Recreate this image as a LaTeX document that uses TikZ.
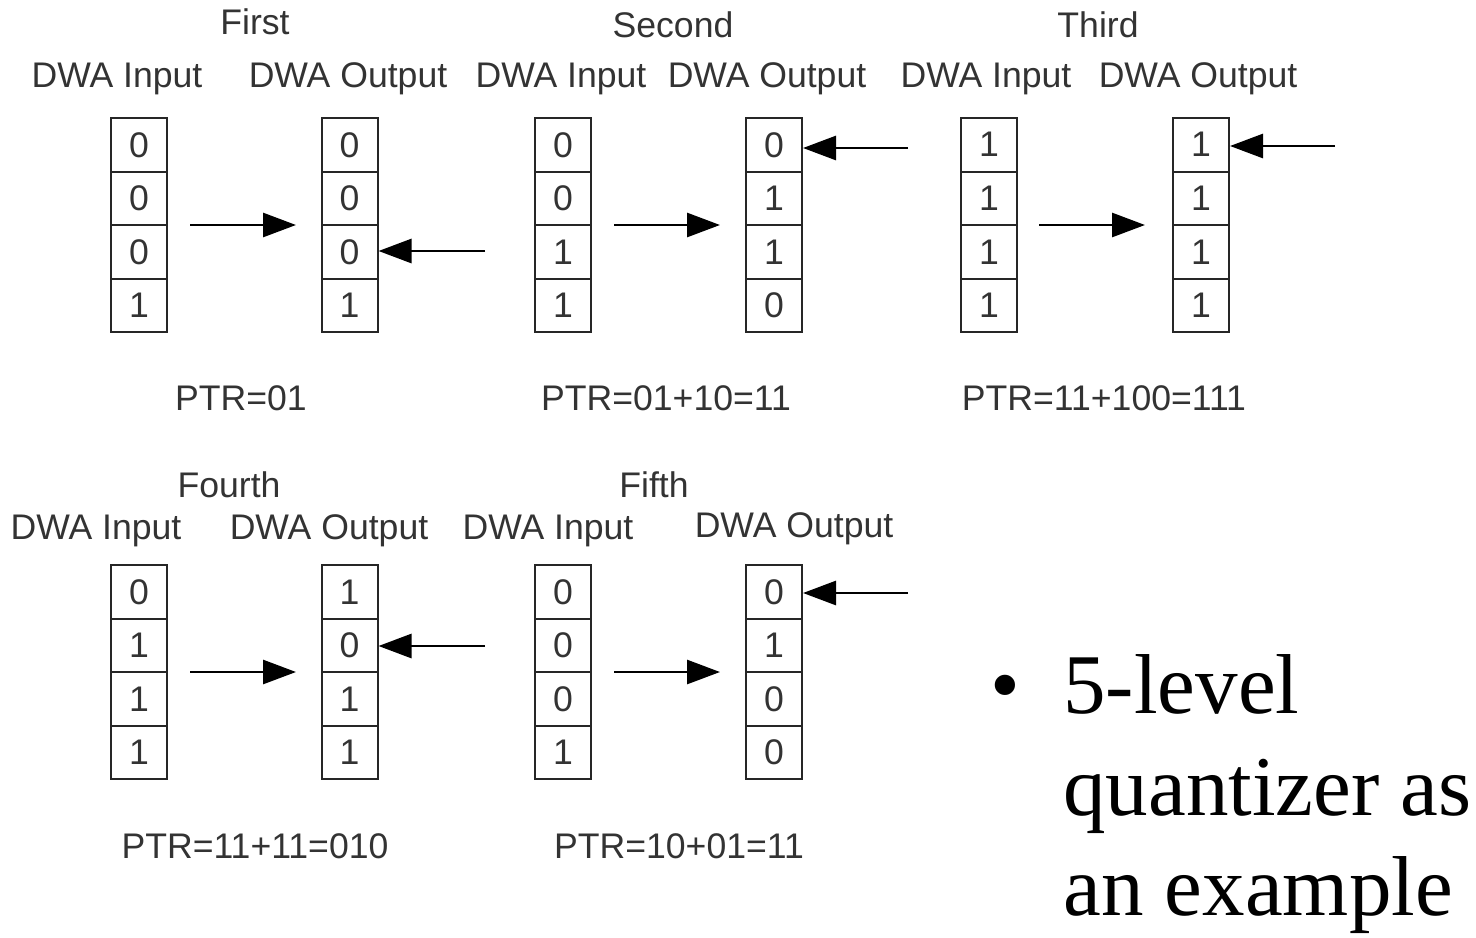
\documentclass[tikz,border=0pt]{standalone}
\usepackage{fontspec}
\setmainfont{Liberation Sans}
\newfontfamily\serifbig{Liberation Serif}
\usetikzlibrary{arrows.meta}
\begin{document}
\begin{tikzpicture}[x=0.5pt,y=-0.5pt,
  cell/.style={draw=black!85,line width=1pt,minimum width=28pt,minimum height=26.75pt,inner sep=0pt,
    font=\fontsize{17.8}{20}\selectfont,text=black!80},
  lbl/.style={anchor=base,inner sep=0pt,font=\fontsize{17.8}{20}\selectfont,text=black!80},
  big/.style={inner sep=0pt,font=\serifbig\fontsize{42.5}{50}\selectfont,text=black},
  arr/.style={-{Triangle[length=16.5pt,width=12pt]},line width=1.4pt,draw=black}]
\useasboundingbox (0,0) rectangle (1476,937);
% register boxes
\foreach \nm/\cx/\ty/\va/\vb/\vc/\vd in {
  b1/139/118/0/0/0/1, b2/349.5/118/0/0/0/1, b3/563/118/0/0/1/1, b4/774/118/0/1/1/0,
  b5/989/118/1/1/1/1, b6/1201/118/1/1/1/1,
  b7/139/565/0/1/1/1, b8/349.5/565/1/0/1/1, b9/563/565/0/0/0/1, b10/774/565/0/1/0/0}{
  \node[cell] (\nm-1) at (\cx,\ty+26.75) {\va};
  \node[cell] (\nm-2) at (\cx,\ty+80.25) {\vb};
  \node[cell] (\nm-3) at (\cx,\ty+133.75) {\vc};
  \node[cell] (\nm-4) at (\cx,\ty+187.25) {\vd};
}
% labels row 1
\node[lbl] (h1) at (255,34) {First};
\node[lbl] (i1) at (117,87) {DWA Input};
\node[lbl] (o1) at (348,87) {DWA Output};
\node[lbl] (h2) at (673,37) {Second};
\node[lbl] (i2) at (561,87) {DWA Input};
\node[lbl] (o2) at (767,87) {DWA Output};
\node[lbl] (h3) at (1098,37) {Third};
\node[lbl] (i3) at (986,87) {DWA Input};
\node[lbl] (o3) at (1198,87) {DWA Output};
\node[lbl] (p1) at (241,410) {PTR=01};
\node[lbl] (p2) at (666,410) {PTR=01+10=11};
\node[lbl] (p3) at (1104,410) {PTR=11+100=111};
% labels row 2
\node[lbl] (h4) at (229,497) {Fourth};
\node[lbl] (i4) at (96,539) {DWA Input};
\node[lbl] (o4) at (329,539) {DWA Output};
\node[lbl] (h5) at (654,497) {Fifth};
\node[lbl] (i5) at (548,539) {DWA Input};
\node[lbl] (o5) at (794,537) {DWA Output};
\node[lbl] (p4) at (255,858) {PTR=11+11=010};
\node[lbl] (p5) at (679,858) {PTR=10+01=11};
% right arrows (free ends)
\coordinate (r1s) at (190,225);  \coordinate (r1e) at (296,225);
\coordinate (r2s) at (614,225);  \coordinate (r2e) at (720,225);
\coordinate (r3s) at (1039,225); \coordinate (r3e) at (1145,225);
\coordinate (r4s) at (190,672);  \coordinate (r4e) at (296,672);
\coordinate (r5s) at (614,672);  \coordinate (r5e) at (720,672);
\draw[arr] (r1s) -- (r1e);
\draw[arr] (r2s) -- (r2e);
\draw[arr] (r3s) -- (r3e);
\draw[arr] (r4s) -- (r4e);
\draw[arr] (r5s) -- (r5e);
% pointer arrows
\coordinate (a2) at (485,251);
\coordinate (a4) at (908,148);
\coordinate (a6) at (1335,146);
\coordinate (a8) at (485,646);
\coordinate (a10) at (908,593);
\draw[arr] (a2) -- (a2 -| b2-3.east);
\draw[arr] (a4) -- (a4 -| b4-1.east);
\draw[arr] (a6) -- (a6 -| b6-1.east);
\draw[arr] (a8) -- (a8 -| b8-2.east);
\draw[arr] (a10) -- (a10 -| b10-1.east);
% bullet text
\node[big,anchor=base] (bul) at (1005,713) {•};
\node[big,anchor=base west] (t1) at (1063,713) {5-level};
\node[big,anchor=base west] (t2) at (1063,815) {quantizer as};
\node[big,anchor=base west] (t3) at (1063,915) {an example};
\end{tikzpicture}
\end{document}
